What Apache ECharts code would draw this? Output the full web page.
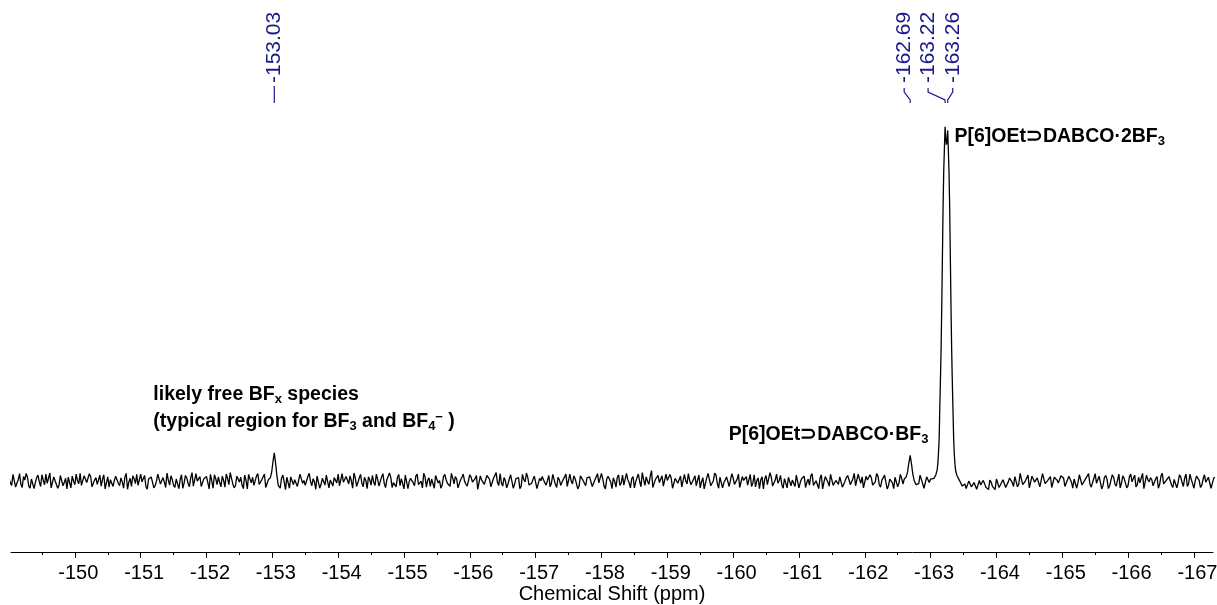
<!DOCTYPE html>
<html><head><meta charset="utf-8">
<script src="https://cdn.jsdelivr.net/npm/echarts@6/dist/echarts.min.js"></script>
<style>html,body{margin:0;padding:0;background:#fff}#c{width:1217px;height:605px}</style>
</head><body><div id="c"></div>
<script>
// ---- data ----
const ppmStart = -149.00;   // first sampled chemical shift
const ppmStep = -0.04;      // sampling step (ppm)
// baseline samples at ppmStart + i*ppmStep
const noise = [
0.8,-1.2,1.5,-0.6,2.1,-1.8,0.3,1.1,-2.0,0.9,-0.4,1.7,-1.5,0.2,2.0,-0.9,-1.9,1.2,0.5,-1.1,
1.6,-0.3,-2.2,0.7,1.4,-1.0,0.1,2.2,-1.6,0.6,-0.8,1.3,-2.1,1.0,0.4,-1.4,1.8,-0.5,-1.7,0.9,
0.2,1.9,-1.3,-0.2,1.1,-2.3,0.8,1.5,-0.7,-1.2,2.0,0.3,-1.6,0.6,1.2,-1.9,0.0,1.7,-0.9,-0.3,
2.3,-1.1,0.5,-1.8,1.0,0.4,-2.0,1.6,-0.6,0.9,-1.4,2.1,-0.2,-1.5,0.7,1.3,-2.2,0.1,1.8,-1.0,
-0.4,1.4,-1.7,0.8,2.4,-0.8,-1.3,0.6,1.1,-2.1,0.2,1.9,-0.5,-1.2,1.5,-0.9,0.4,2.0,-1.8,0.3,
1.0,-1.6,0.7,-0.1,1.7,-2.4,0.9,1.2,-1.0,0.5,-1.9,1.6,0.2,-0.7,2.2,-1.3,-0.2,1.4,-2.0,0.8,
-1.1,1.8,0.3,-1.4,0.6,2.0,-1.7,-0.3,1.3,-0.8,0.1,2.3,-1.5,0.9,-0.6,1.1,-2.1,0.4,1.6,-1.2,
0.5,-0.9,2.1,-1.8,0.2,1.0,-0.4,-1.6,1.9,0.7,-2.2,1.4,-0.1,0.8,-1.3,2.0,-0.7,-1.9,1.2,0.3,
-1.5,0.9,1.6,-0.5,-2.0,1.3,0.4,-1.1,2.2,-0.8,0.6,-1.7,1.1,0.0,-1.4,1.8,-0.3,0.7,-2.3,1.5,
0.2,-1.0,1.7,-1.6,0.8,2.4,-1.2,-0.5,1.0,-1.9,0.6,1.3,-0.9,0.3,-2.1,1.9,-0.2,1.1,-1.4,0.5,
1.4,-2.0,0.1,0.9,-1.1,1.6,-0.6,2.1,-1.8,0.4,-0.3,1.2,-1.5,2.0,-0.8,0.7,-2.2,1.5,0.2,-1.3,
0.8,1.1,-1.7,0.3,-0.5,2.2,-1.4,0.6,1.8,-2.1,0.0,1.0,-1.2,1.7,-0.7,0.4,-1.9,1.3,-0.2,2.0,
-1.6,0.5,1.2,-0.9,3.0,-1.8,0.7,-0.4,1.5,-1.1,0.2,1.9,-2.0,0.8,-0.6,1.4,-1.5,0.1,2.1,-1.0,
0.6,-1.3,1.7,-0.2,-2.2,1.0,0.4,-1.6,2.3,-0.7,1.1,-1.9,0.3,1.5,-1.2,0.9,-0.5,2.0,-1.7,0.2,
1.3,-0.8,-1.5,1.8,0.1,-2.1,1.2,0.6,-1.0,2.4,-1.4,0.3,-0.6,1.6,-2.0,0.9,1.1,-1.3,0.0,1.7,
-1.9,0.7,1.4,-0.4,-1.1,2.1,-1.6,0.5,0.8,-2.2,1.3,-0.3,1.9,-1.2,0.2,-0.9,1.6,-1.8,1.0,0.4,
-0.7,2.2,-1.5,0.6,1.2,-2.0,0.3,1.8,-1.1,-0.2,1.5,-1.7,0.9,2.0,-1.3,0.1,-2.1,1.4,-0.5,0.8,
1.1,-1.6,0.4,2.3,-0.9,-1.4,1.7,0.2,-2.2,1.0,0.6,-1.2,1.9,-0.4,-1.8,1.3,0.7,-1.0,2.1,-1.5,
0.3,1.6,-1.4,-0.8,-2.0,0.4,-1.9,-0.6,-2.2,-1.1,0.2,-1.7,-2.4,-0.3,-1.5,0.6,-1.8,-0.9,0.5,-1.9,
0.9,-0.4,1.3,-1.6,2.2,-1.0,0.1,1.7,-2.1,0.6,-0.7,1.0,-1.4,2.4,-1.2,0.5,-1.8,1.1,0.3,-0.9,
1.9,-1.5,0.4,1.2,-2.0,0.7,-0.3,1.6,-1.1,0.2,2.1,-1.7,0.8,-0.6,1.4,-2.2,1.0,0.5,-1.3,1.8,
-0.8,0.3,-1.9,1.5,0.6,-1.2,2.0,-0.5,-1.6,1.1,0.9,-2.1,1.7,-0.2,0.4,-1.4,1.3,-0.9,2.2,-1.1,
0.1,1.6,-1.8,0.7,-0.4,1.2,-1.5,2.0,-0.7,0.5,-2.0,1.4,0.2,-1.2,1.8,-0.6,0.9,-1.7,1.1
];
// interleaved baseline samples at ppmStart + (i+0.5)*ppmStep
const noiseMid = [
-0.5,1.9,-1.7,0.4,-0.9,1.3,2.2,-1.4,0.6,-2.1,1.0,-0.2,1.8,-1.0,-0.6,2.3,-1.5,0.1,-2.0,1.6,
-1.3,0.8,1.1,-1.9,0.0,2.0,-0.7,-1.2,1.5,-0.4,2.1,-1.6,0.3,-0.9,1.7,0.5,-2.2,1.2,0.4,-1.5,
1.4,-0.6,0.9,-2.0,2.2,-0.3,-1.5,0.7,1.9,-1.1,-0.2,1.6,-2.3,0.2,0.8,-1.3,2.0,-0.8,1.0,-1.8,
0.3,1.5,-1.2,0.6,-2.1,1.8,-0.5,0.9,-1.6,2.4,-0.9,0.0,1.3,-1.7,0.5,-0.4,1.9,-2.0,0.7,1.2,
-1.6,0.2,2.0,-1.0,0.8,-1.9,1.4,-0.3,-1.1,1.7,-2.2,0.6,1.1,-0.7,2.1,-1.4,0.3,-1.8,1.5,0.1,
-0.8,2.2,-1.3,0.9,-0.2,1.1,-2.0,1.6,0.4,-1.5,2.0,-0.6,-1.2,1.3,-0.1,0.7,-2.3,1.8,-0.9,0.5,
1.7,-1.9,0.6,1.0,-0.5,-1.3,2.1,-0.8,0.3,1.5,-2.0,0.9,-0.4,1.9,-1.6,0.2,1.2,-1.1,-0.3,2.0,
-1.4,1.2,-0.7,0.4,2.3,-1.8,-0.1,1.0,-1.3,0.6,1.7,-2.1,0.8,-0.5,1.4,-1.0,0.0,2.2,-1.7,0.9,
0.6,-2.0,1.5,0.2,-1.1,1.9,-0.6,-1.5,0.9,1.3,-1.9,0.4,2.0,-0.8,-1.2,1.1,-0.2,1.6,-2.2,0.3,
-0.9,1.6,0.5,-1.7,1.2,-0.4,2.1,-1.4,0.1,-0.8,1.8,-2.0,0.7,1.0,-1.5,0.4,2.3,-1.1,-0.6,1.4,
-2.1,0.8,1.3,-0.5,0.2,-1.6,1.9,-0.9,1.1,-1.2,0.5,2.0,-1.8,0.0,1.5,-0.7,-1.4,1.7,-0.3,0.9,
1.2,-1.5,0.3,2.1,-1.0,0.6,-2.2,1.4,-0.2,0.9,-1.7,1.8,-0.6,-1.1,2.2,-0.4,0.7,-1.9,1.0,-0.1,
2.4,-1.2,0.0,1.3,-1.8,0.5,1.6,-0.9,-1.4,2.0,-0.3,0.8,-2.1,1.1,0.4,-1.6,1.9,-0.8,0.2,-1.3,
1.5,0.3,-1.9,1.0,-0.6,2.2,-1.3,0.1,1.7,-2.0,0.6,-0.4,1.2,-1.5,2.1,-0.9,0.5,-1.8,1.3,-0.2,
-1.1,1.9,-0.5,-1.6,0.9,0.4,-2.2,1.6,-0.7,1.1,-1.3,2.0,0.2,-1.0,0.7,-1.9,1.4,0.3,-1.5,2.2,
-0.4,1.0,-1.8,0.6,1.5,-1.2,0.1,-2.1,1.8,-0.3,0.8,-1.4,2.3,-0.9,0.5,1.2,-1.7,0.0,1.6,-1.0,
0.7,-1.3,2.0,-0.6,-1.9,1.4,-0.2,0.9,-1.5,2.1,-1.0,0.3,1.7,-2.2,0.6,-0.5,1.1,-1.6,1.9,-0.8,
-1.8,1.3,0.2,-1.1,1.8,-0.7,0.5,-2.0,1.2,-0.4,1.6,-1.3,0.0,2.2,-1.7,0.8,-0.6,1.5,-2.1,0.4,
1.0,-0.9,-1.2,-2.1,0.0,-1.6,-0.4,-2.3,0.2,-1.3,-0.7,-2.0,0.3,-1.5,-2.4,-0.6,-1.1,0.4,-1.8,-0.2,
0.4,-1.5,1.2,-0.8,2.0,-1.1,0.6,-1.9,1.4,-0.3,0.9,-1.6,2.1,-0.7,0.2,1.3,-2.0,0.8,-0.5,1.5,
0.9,-1.7,1.4,-0.3,0.6,-2.0,1.8,-1.1,0.2,1.5,-0.8,-1.5,2.1,-0.4,0.9,-1.2,1.6,-2.1,0.3,1.1,
-1.4,2.0,-0.6,0.8,-1.9,1.2,-0.2,1.7,-1.0,-0.5,2.2,-1.6,0.4,1.0,-1.3,0.7,-2.0,1.5,-0.8,0.2,
1.3,-1.1,0.5,-1.9,1.8,-0.4,0.9,-1.5,2.0,-0.7,0.1,1.4,-1.8,0.6,-0.3,1.1,-2.0,0.8
];
// resolved peaks [ppm, intensity]
const peak153 = [[-152.94,0.4],[-152.97,1.0],[-152.99,2.5],[-153.01,5.5],[-153.03,8.0],[-153.05,5.0],[-153.07,1.5],[-153.09,-1.2],[-153.12,-2.0]];
const peak16269 = [[-162.60,0.6],[-162.63,1.2],[-162.65,2.6],[-162.67,5.2],[-162.69,7.3],[-162.71,4.8],[-162.73,2.0],[-162.75,0.2],[-162.78,-1.0]];
const peak16324 = [[-163.02,0.2],[-163.05,0.8],[-163.08,1.8],[-163.10,3.2],[-163.11,5],[-163.12,8],[-163.13,12],[-163.14,21],[-163.15,29],[-163.16,38],[-163.17,50],[-163.18,64],[-163.19,78],[-163.20,88],[-163.21,94],[-163.22,100],[-163.23,97],[-163.24,95],[-163.25,96],[-163.26,99],[-163.27,93],[-163.28,87],[-163.29,77],[-163.30,63],[-163.31,49],[-163.32,37],[-163.33,28],[-163.34,20],[-163.35,12],[-163.36,7.5],[-163.37,4.8],[-163.38,3.0],[-163.40,1.6],[-163.43,0.5],[-163.46,-0.6]];
const majorTicks = [-150,-151,-152,-153,-154,-155,-156,-157,-158,-159,-160,-161,-162,-163,-164,-165,-166,-167];
const minorTicks = [-149.5,-150.5,-151.5,-152.5,-153.5,-154.5,-155.5,-156.5,-157.5,-158.5,-159.5,-160.5,-161.5,-162.5,-163.5,-164.5,-165.5,-166.5];
const peakPicks = [-153.03,-162.69,-163.22,-163.26];
const peakPickLabels = ['-153.03','-162.69','-163.22','-163.26'];
const xMin = -167.29, xMax = -149.03;

// ---- build series ----
const peaks = [peak153, peak16269, peak16324];
const windows = peaks.map(p => [Math.min(...p.map(d=>d[0])), Math.max(...p.map(d=>d[0]))]);
const inPeak = x => windows.some(w => x >= w[0]-0.005 && x <= w[1]+0.005);
let data = [];
noise.forEach((v,i) => { const x = +(ppmStart + i*ppmStep).toFixed(3); if (!inPeak(x)) data.push([x, v]); });
noiseMid.forEach((v,i) => { const x = +(ppmStart + (i+0.5)*ppmStep).toFixed(3); if (!inPeak(x)) data.push([x, v]); });
peaks.forEach(p => p.forEach(d => data.push(d)));
data.sort((a,b) => b[0]-a[0]);

const FF = '"Liberation Sans", Arial, Helvetica, sans-serif';
const chart = echarts.init(document.getElementById('c'), null, {renderer:'canvas'});
chart.setOption({
  animation:false,
  backgroundColor:'#fff',
  grid:{left:11,right:4,top:56,bottom:53,containLabel:false,outerBoundsMode:'none'},
  xAxis:[{
    type:'value', min:xMin, max:xMax, inverse:true,
    axisLine:{show:true,onZero:false,lineStyle:{color:'#000',width:1}},
    axisTick:{show:true,customValues:majorTicks,length:6,lineStyle:{color:'#000',width:1}},
    axisLabel:{show:true,customValues:majorTicks,fontSize:20,color:'#000',fontFamily:FF,margin:11,padding:[0,0,0,7]},
    splitLine:{show:false},
    name:'Chemical Shift (ppm)', nameLocation:'middle', nameGap:32, nameMoveOverlap:false,
    nameTextStyle:{fontSize:20,color:'#000',fontFamily:FF}
  },{
    type:'value', min:xMin, max:xMax, inverse:true, position:'bottom',
    axisLine:{show:false,onZero:false},
    axisTick:{show:true,customValues:minorTicks,length:3,lineStyle:{color:'#000',width:1}},
    axisLabel:{show:false}, splitLine:{show:false}
  }],
  yAxis:{type:'value',min:-20,max:120,show:false},
  series:[{
    type:'line', data:data, showSymbol:false, symbol:'none', silent:true,
    lineStyle:{color:'#000',width:1.3}, sampling:null
  }]
});

const fx = v => chart.convertToPixel({xAxisIndex:0}, v);
const fy = v => chart.convertToPixel({yAxisIndex:0}, v);
const blue = '#1a1a8c';
const g = [];
// peak-pick labels
const labelOffsets = [0,-6,-17,5];
peakPicks.forEach((p,i) => {
  const px = fx(p), lx = px + labelOffsets[i];
  g.push({type:'text', x:lx, y:83, rotation:Math.PI/2, silent:true,
    style:{text:peakPickLabels[i], fill:blue, fontSize:21, fontFamily:FF, align:'left', verticalAlign:'middle'}});
  const pts = i === 0 ? [[px,86],[px,103]] : [[lx,88],[lx,92],[px,100],[px,103]];
  g.push({type:'polyline', silent:true, shape:{points:pts}, style:{stroke:blue, lineWidth:1.2, fill:null}});
});
const rich = {
  b:{fontSize:19.5,fontWeight:'bold',fontFamily:FF,fill:'#000',lineHeight:22},
  s:{fontSize:13,fontWeight:'bold',fontFamily:FF,fill:'#000',lineHeight:8,verticalAlign:'bottom'},
  u:{fontSize:13,fontWeight:'bold',fontFamily:FF,fill:'#000',lineHeight:8,verticalAlign:'top'}
};
const pMain = fx(-163.24);
g.push({type:'text', x:pMain+8, y:fy(100)+10, silent:true,
  style:{text:'{b|P[6]OEt⊃DABCO·2BF}{s|3}', rich:rich, align:'left', verticalAlign:'middle'}});
g.push({type:'text', x:pMain-18, y:fy(13), silent:true,
  style:{text:'{b|P[6]OEt⊃DABCO·BF}{s|3}', rich:rich, align:'right', verticalAlign:'middle'}});
const p153 = fx(-153.03);
g.push({type:'text', x:p153-121, y:395, silent:true,
  style:{text:'{b|likely free BF}{s|x}{b| species}', rich:rich, align:'left', verticalAlign:'middle'}});
g.push({type:'text', x:p153-121, y:422, silent:true,
  style:{text:'{b|(typical region for BF}{s|3}{b| and BF}{s|4}{u|−}{b| )}', rich:rich, align:'left', verticalAlign:'middle'}});
chart.setOption({graphic:g});
</script>
</body></html>
